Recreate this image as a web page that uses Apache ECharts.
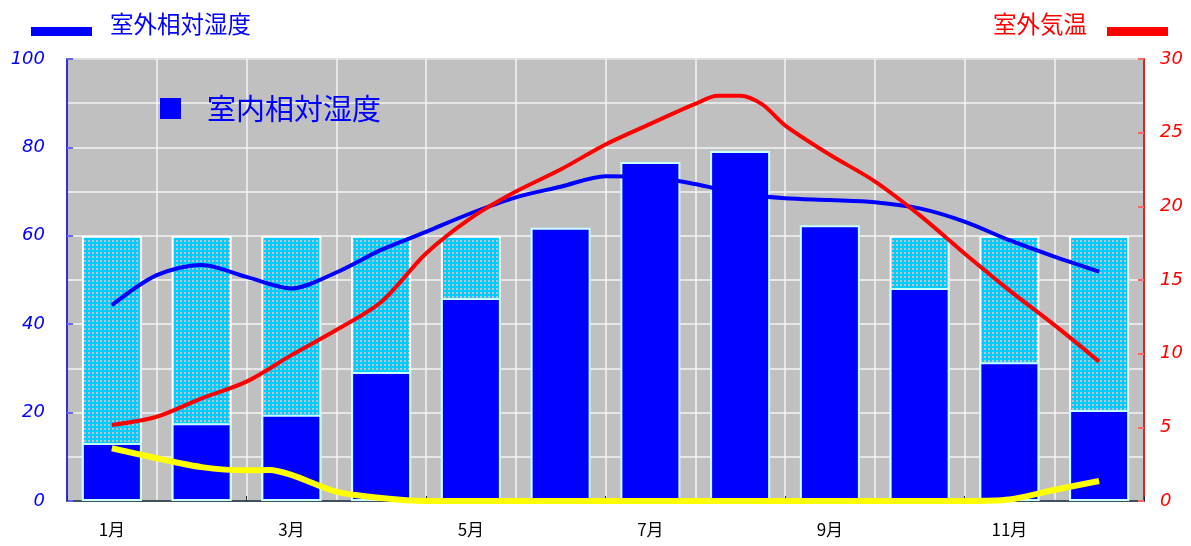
<!DOCTYPE html>
<html><head><meta charset="utf-8">
<script src="https://cdn.jsdelivr.net/npm/echarts@6/dist/echarts.min.js"></script>
<style>html,body{margin:0;padding:0;background:#fff}#c{width:1191px;height:546px}</style>
</head><body><div id="c"></div>
<script>
const months = ['1月','2月','3月','4月','5月','6月','7月','8月','9月','10月','11月','12月'];
const indoorRH = [13.1,17.6,19.5,29.2,45.9,61.8,76.7,79.2,62.4,48.2,31.4,20.6];
const hatchTop = [60,60,60,60,60,null,null,null,null,60,60,60];
const outdoorRHx = [1,1.5,2,2.5,3,3.5,4,4.5,5,5.5,6,6.5,7,7.5,8,8.5,9,9.5,10,10.5,11,11.5,12];
const outdoorRH = [44.3,51.1,53.4,50.7,48.1,51.7,56.8,60.9,65.1,68.7,71.1,73.5,73.3,71.7,69.5,68.5,68.1,67.6,66.2,63.2,59.0,55.3,51.9];
const outdoorTx = [1,1.5,2,2.5,3,3.5,4,4.5,5,5.5,6,6.5,7,7.5,7.75,8,8.25,8.5,9,9.5,10,10.5,11,11.5,12];
const outdoorT = [5.16,5.72,6.97,8.1,9.9,11.6,13.5,16.8,19.2,21.0,22.5,24.2,25.6,26.95,27.5,27.5,26.9,25.5,23.5,21.7,19.4,16.8,14.3,11.95,9.46];
const yellowX = [1,1.5,2,2.5,2.75,3,3.5,4,4.5,5,6,7,8,9,10,10.5,11,11.5,12];
const yellowV = [3.58,2.9,2.3,2.08,2.1,1.77,0.63,0.2,0,0,0,0,0,0,0,0,0.1,0.75,1.36];

const pc = document.createElement('canvas'); pc.width = 4; pc.height = 4;
const g = pc.getContext('2d');
g.fillStyle = '#00ccff'; g.fillRect(0,0,4,4);
g.fillStyle = '#c0c0c0'; g.fillRect(0,0,2,2);

const zip = (xs, ys) => xs.map((x,i)=>[x, ys[i]]);
const jp = '"Noto Sans CJK JP", sans-serif';

const chart = echarts.init(document.getElementById('c'), null, {renderer:'canvas'});
chart.setOption({
  animation: false,
  backgroundColor: '#ffffff',
  grid: {left: 67, right: 47, top: 59, bottom: 45, show: true, backgroundColor: '#c0c0c0', borderColor: '#606060', borderWidth: 1},
  legend: [
    {data:['室内相対湿度'], left: 160, top: 94, padding: 0, icon: 'rect', itemWidth: 21, itemHeight: 21, selectedMode: false,
     itemStyle: {borderWidth: 0, color: '#0000ff'},
     textStyle: {color:'#0000ff', fontSize: 29, fontFamily: jp, padding:[0,0,0,21]}}
  ],
  graphic: [
    {type: 'rect', left: 31, top: 27, shape: {width: 61, height: 9}, style: {fill: '#0000ff'}},
    {type: 'text', left: 110, top: 12, style: {text: '室外相対湿度', fill: '#0000ff', font: '23.5px "Noto Sans CJK JP"'}},
    {type: 'rect', left: 1107, top: 27, shape: {width: 61, height: 9}, style: {fill: '#ff0000'}},
    {type: 'text', right: 104, top: 12, style: {text: '室外気温', fill: '#ff0000', font: '23.5px "Noto Sans CJK JP"'}}
  ],
  xAxis: [
    {type: 'category', data: months, boundaryGap: true,
     axisLine: {show: true, lineStyle: {color: '#405060', width: 2}},
     axisTick: {show: true, inside: true, length: 5, interval: 1, lineStyle: {color: '#303030'}},
     axisLabel: {interval: 1, color: '#000', fontSize: 17, fontFamily: jp, margin: 20},
     splitLine: {show: true, interval: 0, lineStyle: {color: '#f4f4f4', width: 1.5}}},
    {type: 'value', min: 0.5, max: 12.5, show: false}
  ],
  yAxis: [
    {type: 'value', min: 0, max: 100, interval: 20,
     axisLine: {show: true, lineStyle: {color: '#3333cc', width: 2}},
     axisTick: {show: true, inside: true, length: 6, lineStyle: {color: '#6666ff', width: 2}},
     axisLabel: {color: '#0000ff', fontSize: 18, fontStyle: 'italic', fontFamily: 'DejaVu Sans', margin: 22},
     splitLine: {show: true, lineStyle: {color: '#f4f4f4', width: 1.5}},
     minorTick: {show: false, splitNumber: 2},
     minorSplitLine: {show: true, lineStyle: {color: '#f4f4f4', width: 1.5}}},
    {type: 'value', min: 0, max: 30, interval: 5, position: 'right',
     axisLine: {show: true, lineStyle: {color: '#dd2222', width: 2}},
     axisTick: {show: true, inside: true, length: 6, lineStyle: {color: '#ff6666', width: 2}},
     axisLabel: {color: '#ff0000', fontSize: 18, fontStyle: 'italic', fontFamily: 'DejaVu Sans', margin: 16},
     splitLine: {show: false}}
  ],
  series: [
    {name: 'hatch', type: 'bar', data: hatchTop, barWidth: 60, barGap: '-100%', z: 2,
     itemStyle: {color: {image: pc, repeat: 'repeat'}, borderColor: '#ffffff', borderWidth: 2}},
    {name: '室内相対湿度', type: 'bar', data: indoorRH, barWidth: 60, barGap: '-100%', z: 3,
     itemStyle: {color: '#0000ff', borderColor: '#c8ffff', borderWidth: 2}},
    {name: '室外相対湿度', type: 'line', xAxisIndex: 1, yAxisIndex: 0, data: zip(outdoorRHx, outdoorRH),
     smooth: 0.3, showSymbol: false, z: 5, color: '#0000ff',
     lineStyle: {color: '#0000ff', width: 4}},
    {name: '室外気温', type: 'line', xAxisIndex: 1, yAxisIndex: 1, data: zip(outdoorTx, outdoorT),
     smooth: 0.3, showSymbol: false, z: 6, color: '#ff0000',
     lineStyle: {color: '#ff0000', width: 4}},
    {name: 'yellow', type: 'line', xAxisIndex: 1, yAxisIndex: 1, data: zip(yellowX, yellowV),
     smooth: 0.3, showSymbol: false, z: 7, clip: false,
     lineStyle: {color: '#ffff00', width: 6}}
  ]
});
</script></body></html>
